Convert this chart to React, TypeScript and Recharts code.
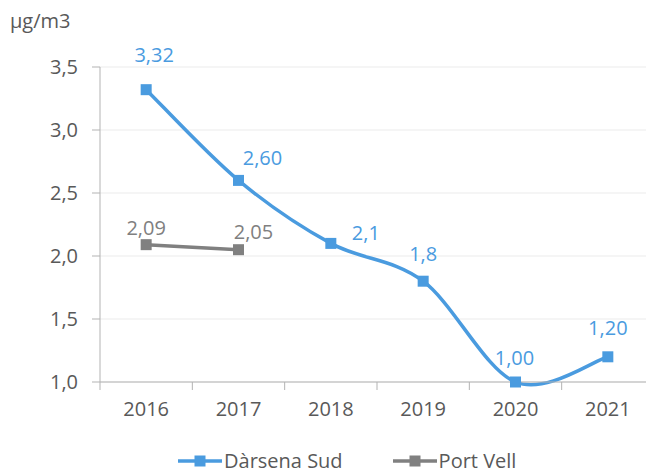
import { LineChart, Line, XAxis, YAxis, CartesianGrid, LabelList, Legend } from 'recharts'

const years = ['2016', '2017', '2018', '2019', '2020', '2021']
const darsenaSud = [3.32, 2.6, 2.1, 1.8, 1.0, 1.2]
const darsenaLabels = ['3,32', '2,60', '2,1', '1,8', '1,00', '1,20']
const portVell = [2.09, 2.05, null, null, null, null]
const portVellLabels = ['2,09', '2,05', '', '', '', '']
const yTicks = [1.0, 1.5, 2.0, 2.5, 3.0, 3.5]

// label nudges (dx, dy) relative to each point
const darsenaOffsets = [[8, -35], [24, -23], [35, -11], [0, -28], [-1, -25], [0, -29]]
const portVellOffsets = [[0, -17], [15, -18]]

const BLUE = '#4A9BDF'
const GRAY = '#808080'
const TEXT = '#595959'
const FONT = '"Open Sans", sans-serif'

const W = 646
const H = 466
const Y_AXIS_W = 92
const PLOT_BOTTOM = 374
const BAND = (W - Y_AXIS_W) / years.length

const data = years.map((year, i) => ({
  year,
  darsena: darsenaSud[i],
  port: portVell[i],
  darsenaLabel: darsenaLabels[i],
  portLabel: portVellLabels[i],
}))

// Catmull-Rom style smoothing, close to Excel's smoothed line
function smoothCurve(context: any) {
  let pts: number[][] = []
  return {
    areaStart() {},
    areaEnd() {},
    lineStart() {
      pts = []
    },
    point(x: number, y: number) {
      pts.push([+x, +y])
    },
    lineEnd() {
      if (!pts.length) return
      context.moveTo(pts[0][0], pts[0][1])
      for (let i = 0; i < pts.length - 1; i++) {
        const p0 = pts[i - 1] || pts[i]
        const p1 = pts[i]
        const p2 = pts[i + 1]
        const p3 = pts[i + 2] || p2
        context.bezierCurveTo(
          p1[0] + (p2[0] - p0[0]) / 6,
          p1[1] + (p2[1] - p0[1]) / 6,
          p2[0] - (p3[0] - p1[0]) / 6,
          p2[1] - (p3[1] - p1[1]) / 6,
          p2[0],
          p2[1]
        )
      }
    },
  }
}

function squareDot(color: string) {
  return (props: any) => {
    const { cx, cy, index } = props
    if (cx == null || cy == null || props.value == null) return <g key={index} />
    return <rect key={index} x={cx - 5.5} y={cy - 5.5} width={11} height={11} fill={color} />
  }
}

function pointLabel(color: string, offsets: number[][]) {
  return (props: any) => {
    const { x, y, value, index } = props
    if (!value || x == null || y == null) return null
    const [dx, dy] = offsets[index] || [0, -25]
    return (
      <text
        x={x + dx}
        y={y + dy}
        textAnchor="middle"
        dominantBaseline="central"
        fill={color}
        fontSize={20}
        fontFamily={FONT}
      >
        {value}
      </text>
    )
  }
}

function XTick(props: any) {
  const { x, y, payload, index } = props
  const left = x - BAND / 2
  return (
    <g>
      <line x1={left} y1={PLOT_BOTTOM} x2={left} y2={PLOT_BOTTOM + 8} stroke="#B3B3B3" />
      {index === years.length - 1 && (
        <line x1={x + BAND / 2} y1={PLOT_BOTTOM} x2={x + BAND / 2} y2={PLOT_BOTTOM + 8} stroke="#B3B3B3" />
      )}
      <text x={x} y={y} dy="0.71em" textAnchor="middle" fill={TEXT} fontSize={20} fontFamily={FONT}>
        {payload.value}
      </text>
    </g>
  )
}

function LegendIcon({ color }: { color: string }) {
  return (
    <svg width={44} height={12} style={{ verticalAlign: 'middle' }}>
      <line x1={0} y1={6} x2={44} y2={6} stroke={color} strokeWidth={3.5} />
      <rect x={16.5} y={0.5} width={11} height={11} fill={color} />
    </svg>
  )
}

function LegendContent() {
  return (
    <div
      style={{
        height: 42,
        paddingLeft: 170,
        paddingTop: 17,
        boxSizing: 'border-box',
        fontFamily: FONT,
        fontSize: 20,
        color: TEXT,
        whiteSpace: 'nowrap',
        lineHeight: '20px',
      }}
    >
      <LegendIcon color={BLUE} />
      <span style={{ marginLeft: 2, verticalAlign: 'middle' }}>Dàrsena Sud</span>
      <span style={{ display: 'inline-block', width: 50 }} />
      <LegendIcon color={GRAY} />
      <span style={{ marginLeft: 2, verticalAlign: 'middle' }}>Port Vell</span>
    </div>
  )
}

export default function App() {
  return (
    <div style={{ position: 'relative', width: W, height: H }}>
      <LineChart width={W} height={H} data={data} margin={{ top: 59, right: 0, bottom: 0, left: 0 }}>
        <CartesianGrid vertical={false} stroke="#EBEBEB" />
        <XAxis
          dataKey="year"
          height={50}
          padding={{ left: BAND / 2, right: BAND / 2 }}
          axisLine={{ stroke: '#B3B3B3' }}
          tickLine={false}
          tick={<XTick />}
          tickMargin={14}
          interval={0}
        />
        <YAxis
          width={Y_AXIS_W}
          domain={[1, 3.5]}
          ticks={yTicks}
          tickFormatter={(v: number) => v.toFixed(1).replace('.', ',')}
          axisLine={{ stroke: '#B3B3B3' }}
          tickLine={{ stroke: '#B3B3B3' }}
          tickSize={8}
          tickMargin={14}
          tick={{ fill: TEXT, fontSize: 20, fontFamily: FONT }}
          label={{
            content: () => (
              <text x={2} y={20} fill={TEXT} fontSize={20} fontFamily={FONT}>
                µg/m3
              </text>
            ),
          }}
        />
        <Legend verticalAlign="bottom" wrapperStyle={{ left: 0, width: W }} content={<LegendContent />} />
        <Line
          dataKey="darsena"
          type={smoothCurve as any}
          stroke={BLUE}
          strokeWidth={3.5}
          dot={squareDot(BLUE)}
          activeDot={false}
          isAnimationActive={false}
        >
          <LabelList dataKey="darsenaLabel" content={pointLabel(BLUE, darsenaOffsets)} />
        </Line>
        <Line
          dataKey="port"
          type="linear"
          stroke={GRAY}
          strokeWidth={3.5}
          dot={squareDot(GRAY)}
          activeDot={false}
          isAnimationActive={false}
        >
          <LabelList dataKey="portLabel" content={pointLabel(GRAY, portVellOffsets)} />
        </Line>
      </LineChart>
    </div>
  )
}
